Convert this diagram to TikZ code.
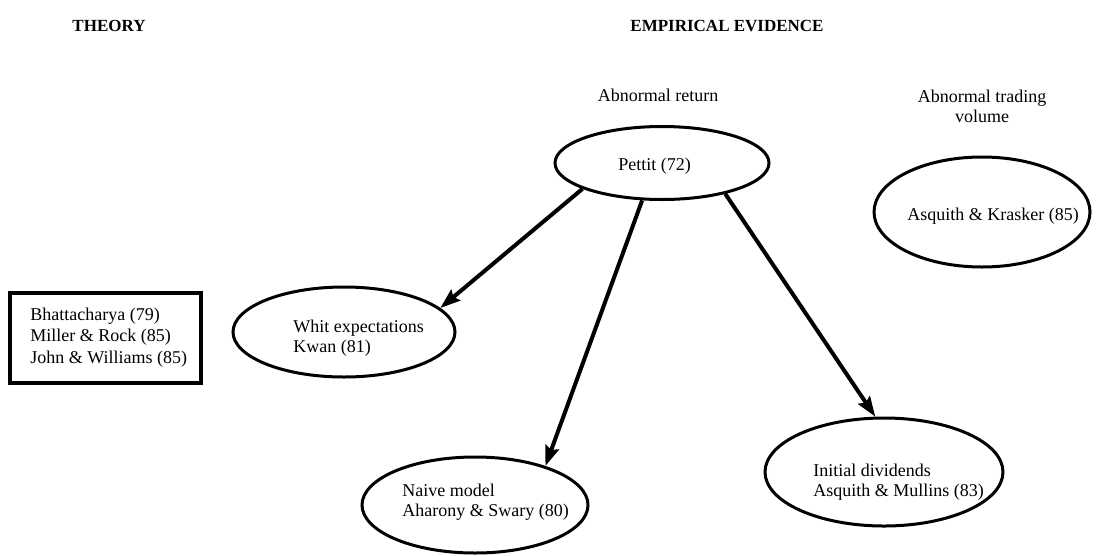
\documentclass[tikz,border=0pt]{standalone}
\usepackage{fontspec}
\setmainfont{Liberation Serif}
\usetikzlibrary{shapes.geometric,arrows.meta,positioning}

\begin{document}
\begin{tikzpicture}[x=1pt,y=-1pt,>={Stealth[length=20pt,width=14pt,inset=3pt]},semithick]
  \tikzstyle{every node}=[font=\fontsize{18}{20}\selectfont]
  \tikzstyle{paper}=[draw,ellipse,line width=3pt,inner sep=0pt]
  \tikzstyle{txt}=[align=left,anchor=base west,inner sep=0pt]
  \tikzstyle{head}=[anchor=base,inner sep=0pt,font=\fontsize{17}{20}\selectfont\bfseries]
  \useasboundingbox (0,0) rectangle (1099,555);

  % Headings
  \node[head] (theory) at (109,31) {THEORY};
  \node[head] (empirical) at (727,31) {EMPIRICAL EVIDENCE};
  \node[anchor=base,inner sep=0pt] (abret) at (658,101) {Abnormal return};
  \node[anchor=base,inner sep=0pt,align=center] (abvol) at (982,122) {Abnormal trading\\volume};

  % Theory box
  \node[draw,line width=4pt,minimum width=191,minimum height=90] (theorybox) at (105.5,338) {};
  \node[txt,font=\fontsize{18}{21.5}\selectfont] (theorytxt) at (30,363)
    {Bhattacharya (79)\\Miller \& Rock (85)\\John \& Williams (85)};

  % Studies
  \node[paper,minimum width=214,minimum height=73] (pettit) at (662,163) {};
  \node[txt] (pettittxt) at (618,170) {Pettit (72)};

  \node[paper,minimum width=216,minimum height=110] (krasker) at (982,212) {};
  \node[txt] (kraskertxt) at (907,220) {Asquith \& Krasker (85)};

  \node[paper,minimum width=222,minimum height=90] (whit) at (344,332) {};
  \node[txt] (whittxt) at (293,352) {Whit expectations\\Kwan (81)};

  \node[paper,minimum width=226,minimum height=96] (naive) at (475,505) {};
  \node[txt] (naivetxt) at (402,516) {Naive model\\Aharony \& Swary (80)};

  \node[paper,minimum width=238,minimum height=108] (initial) at (884,472) {};
  \node[txt] (initialtxt) at (813,496) {Initial dividends\\Asquith \& Mullins (83)};

  % Links
  \path[->,line width=4pt]
    (pettit.198) edge (whit.14)
    (pettit.242) edge (naive.29)
    (pettit.334) edge (initial.99);
\end{tikzpicture}
\end{document}
